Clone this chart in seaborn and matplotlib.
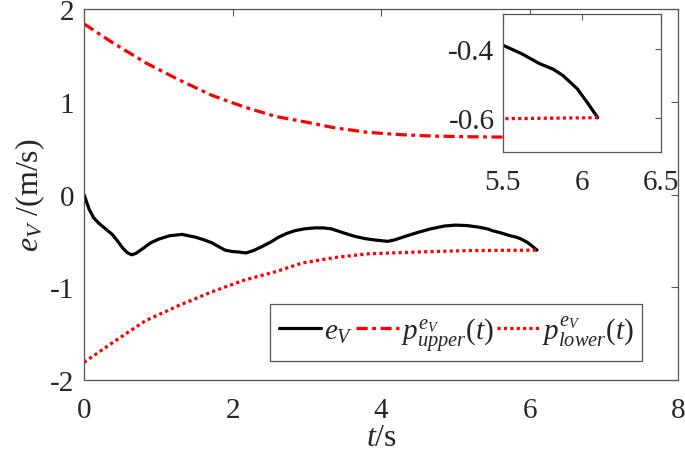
import numpy as np
import pandas as pd
import matplotlib
matplotlib.use("Agg")
import matplotlib.pyplot as plt
import seaborn as sns

# ---- data ----
t_ev = [0, 0.07, 0.13, 0.2, 0.29, 0.38, 0.45, 0.52, 0.58, 0.64, 0.7, 0.78, 0.9, 1.01,
        1.15, 1.32, 1.5, 1.62, 1.72, 1.82, 1.9, 2.0, 2.08, 2.18, 2.28, 2.4, 2.52, 2.62,
        2.73, 2.84, 2.97, 3.11, 3.22, 3.33, 3.48, 3.64, 3.78, 3.91, 4.09, 4.18, 4.33,
        4.49, 4.67, 4.85, 5.0, 5.16, 5.3, 5.43, 5.5, 5.62, 5.73, 5.82, 5.88, 5.97, 6.04, 6.1]
e_v = [0, -0.16, -0.25, -0.31, -0.37, -0.43, -0.50, -0.575, -0.625, -0.65, -0.635, -0.59,
       -0.52, -0.48, -0.445, -0.43, -0.46, -0.49, -0.52, -0.565, -0.60, -0.615, -0.62,
       -0.63, -0.605, -0.56, -0.51, -0.46, -0.42, -0.39, -0.37, -0.36, -0.36, -0.37,
       -0.41, -0.45, -0.475, -0.49, -0.505, -0.49, -0.45, -0.41, -0.37, -0.34, -0.33,
       -0.335, -0.35, -0.37, -0.39, -0.415, -0.443, -0.46, -0.478, -0.516, -0.56, -0.60]

t_up = [0, 0.38, 0.83, 1.27, 1.72, 2.17, 2.59, 2.93, 3.37, 3.82, 4.27, 4.71, 5.16, 5.57, 6.1]
p_up = [1.84, 1.64, 1.42, 1.24, 1.07, 0.94, 0.84, 0.79, 0.72, 0.67, 0.645, 0.63, 0.623, 0.62, 0.615]

t_lo = [0, 0.38, 0.83, 1.27, 1.72, 2.17, 2.59, 2.93, 3.37, 3.82, 4.49, 5.16, 5.5, 6.1]
p_lo = [-1.81, -1.60, -1.36, -1.20, -1.05, -0.92, -0.83, -0.74, -0.68, -0.64, -0.62, -0.605, -0.603, -0.60]

x_ticks = [0, 2, 4, 6, 8]
y_ticks = [-2, -1, 0, 1, 2]
inset_xticks = [5.5, 6, 6.5]
inset_yticks = [-0.6, -0.4]

lab_ev = r'$e_V$'
lab_up = r'$p^{e_V}_{upper}(t)$'
lab_lo = r'$p^{e_V}_{lower}(t)$'

df_ev = pd.DataFrame({"t": t_ev, "v": e_v})
df_up = pd.DataFrame({"t": t_up, "v": p_up})
df_lo = pd.DataFrame({"t": t_lo, "v": p_lo})

# ---- style ----
sns.set_style("white")
plt.rcParams['font.family'] = ['Liberation Serif', 'DejaVu Serif']
plt.rcParams['mathtext.fontset'] = 'custom'
plt.rcParams['mathtext.rm'] = 'Liberation Serif'
plt.rcParams['mathtext.it'] = 'Liberation Serif:italic'
plt.rcParams['mathtext.bf'] = 'Liberation Serif:bold'
plt.rcParams['axes.unicode_minus'] = False

FS = 21
LFS = 23
spine_c = '#555555'
lw = 2.3
dashdot = (0, (3.5, 1.4, 1.2, 1.4))
dotted = (0, (1, 1))

fig = plt.figure(figsize=(6.85, 4.56), dpi=100)
ax = fig.add_axes([0.1226, 0.1645, 0.99 - 0.1226, 0.978 - 0.1645])

sns.lineplot(data=df_ev, x="t", y="v", ax=ax, color='black', lw=lw, label=lab_ev, sort=False)
sns.lineplot(data=df_up, x="t", y="v", ax=ax, color='red', lw=lw, label=lab_up, sort=False,
             linestyle=dashdot)
sns.lineplot(data=df_lo, x="t", y="v", ax=ax, color='red', lw=lw, label=lab_lo, sort=False,
             linestyle=dotted)

ax.set_xlim(0, 8)
ax.set_ylim(-2, 2)
ax.set_xticks(x_ticks)
ax.set_yticks(y_ticks)
ax.set_xticklabels([str(v) for v in x_ticks])
ax.set_yticklabels([str(v) for v in y_ticks])
ax.tick_params(direction='in', top=True, right=True, labelsize=FS, length=5,
               color=spine_c, width=0.8)
ax.tick_params(axis='x', pad=12)
ax.tick_params(axis='y', pad=7)
for s in ax.spines.values():
    s.set_color(spine_c)
    s.set_linewidth(0.9)
ax.set_xlabel(r'$t$/s', fontsize=LFS, labelpad=0)
ax.set_ylabel(r'$e_V$ /(m/s)', fontsize=LFS, labelpad=2)

leg = ax.legend(loc='lower right', bbox_to_anchor=(0.94, 0.05), ncol=3, fontsize=FS,
                frameon=True, fancybox=False, framealpha=1, edgecolor=spine_c,
                handlelength=1.45, handletextpad=0.08, columnspacing=0.12,
                borderpad=0.3, borderaxespad=0)
leg.get_frame().set_linewidth(0.9)

# ---- inset ----
axi = fig.add_axes([0.734, 0.664, 0.965 - 0.734, 0.967 - 0.664])
sns.lineplot(data=df_ev, x="t", y="v", ax=axi, color='black', lw=lw, sort=False, legend=False)
sns.lineplot(data=df_lo, x="t", y="v", ax=axi, color='red', lw=lw, sort=False, legend=False,
             linestyle=dotted)
axi.set_xlim(5.5, 6.5)
axi.set_ylim(-0.7, -0.3)
axi.set_xticks(inset_xticks)
axi.set_yticks(inset_yticks)
axi.set_xticklabels(['5.5', '6', '6.5'])
axi.set_yticklabels(['-0.6', '-0.4'])
axi.tick_params(direction='in', top=True, right=True, labelsize=FS, length=4,
                color=spine_c, width=0.8)
axi.tick_params(axis='x', pad=12)
axi.tick_params(axis='y', pad=6)
axi.set_xlabel('')
axi.set_ylabel('')
for s in axi.spines.values():
    s.set_color(spine_c)
    s.set_linewidth(0.9)

fig.savefig("out.png", dpi=100)
